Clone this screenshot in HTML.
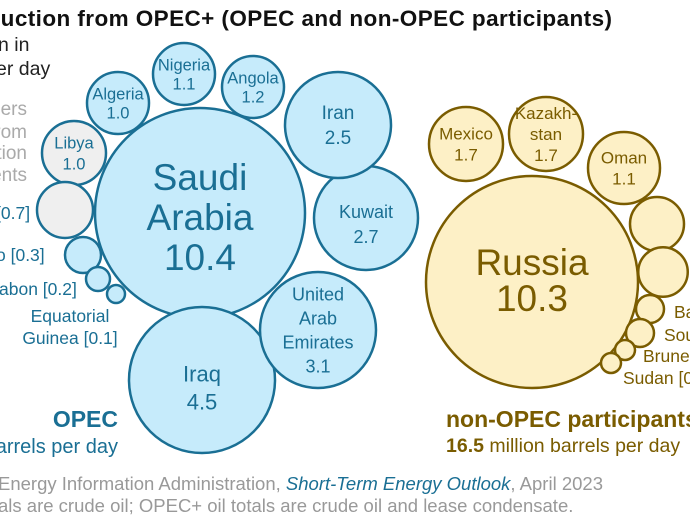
<!DOCTYPE html>
<html><head><meta charset="utf-8"><style>
body{margin:0;background:#fff;width:690px;height:518px;overflow:hidden}
svg{display:block;font-family:"Liberation Sans",Arial,sans-serif}
</style></head><body>
<svg id="c" width="690" height="518">
<text x="-6" y="26" font-size="22.5" font-weight="bold" fill="#111" textLength="618">luction from OPEC+ (OPEC and non-OPEC participants)</text>
<text x="-2" y="51" font-size="19.5" fill="#222">n in</text>
<text x="-4" y="75" font-size="19.5" fill="#222">er day</text>
<g fill="#aaa" font-size="19" text-anchor="end">
<text x="27" y="115">ers</text><text x="27" y="138">rom</text><text x="27" y="159">tion</text><text x="27" y="181">ents</text></g>
<g fill="#1a6f94" font-size="17.5">
<text x="-4" y="219">[0.7]</text><text x="-4" y="261">o [0.3]</text><text x="-1" y="295">abon [0.2]</text>
<text x="70" y="322" text-anchor="middle">Equatorial</text><text x="70" y="344" text-anchor="middle">Guinea [0.1]</text></g>
<g fill="#7a5c00" font-size="17.5">
<text x="674" y="318">Ba</text><text x="664" y="341">Sou</text><text x="643" y="362">Brune</text><text x="623" y="384">Sudan [0</text></g>
<text x="118" y="427" font-size="23" font-weight="bold" fill="#1a6f94" text-anchor="end">OPEC</text>
<text x="118" y="453" font-size="20" fill="#1a6f94" text-anchor="end">arrels per day</text>
<text x="446" y="427" font-size="23" font-weight="bold" fill="#7a5c00">non-OPEC participants</text>
<text x="446" y="452" font-size="19.5" fill="#7a5c00"><tspan font-weight="bold">16.5</tspan> million barrels per day</text>
<text x="-2" y="490" font-size="18.5" fill="#999">Energy Information Administration, <tspan fill="#1a6f94" font-style="italic">Short-Term Energy Outlook</tspan>, April 2023</text>
<text x="-2" y="512" font-size="18.5" fill="#999">als are crude oil; OPEC+ oil totals are crude oil and lease condensate.</text>
<g id="bubbles"></g>
</svg>
<script>
const opecNames=["Saudi Arabia","Iraq","United Arab Emirates","Kuwait","Iran","Angola","Nigeria","Algeria","Libya","Venezuela","Congo","Gabon","Equatorial Guinea"];
const opecValues=[10.4,4.5,3.1,2.7,2.5,1.2,1.1,1.0,1.0,0.7,0.3,0.2,0.1];
const opecExempt=[0,0,0,0,0,0,0,0,1,1,0,0,0];
const nonNames=["Russia","Mexico","Kazakhstan","Oman","Azerbaijan","Malaysia","Bahrain","South Sudan","Brunei","Sudan"];
const nonValues=[10.3,1.7,1.7,1.1,0.6,0.5,0.2,0.2,0.1,0.1];
// layout anchors (bubble centres, packed layout) and max-radius caps
const opecCx=[200,202,318,366,338,253,184,118,74,65,83,98,116];
const opecCy=[213,380,330,218,125,87,74,103,153,210,255,279,294];
const opecCap=[105,73,58,52,53,31,31,31,32,28,18,12,9];
const nonCx=[532,466,546,624,657,663,650,640,625,611];
const nonCy=[282,144,134,168,224,272,309,333,350,363];
const nonCap=[106,37,37,36,27,25,14,14,10,10];
const rOf=v=>35*Math.sqrt(v);
const NS="http://www.w3.org/2000/svg",g=document.getElementById("bubbles");
function lines(txt,x,y,fs,col,lh){const t=document.createElementNS(NS,"text");t.setAttribute("text-anchor","middle");t.setAttribute("font-size",fs);t.setAttribute("fill",col);
const n=txt.length;txt.forEach((s,i)=>{const sp=document.createElementNS(NS,"tspan");sp.setAttribute("x",x);sp.setAttribute("y",y+(i-(n-1)/2)*lh+fs*0.35);sp.textContent=s;t.appendChild(sp);});


g.appendChild(t);}
function bubble(x,y,r,fill,stroke,name){const c=document.createElementNS(NS,"circle");c.setAttribute("cx",x);c.setAttribute("cy",y);c.setAttribute("r",r);c.setAttribute("fill",fill);c.setAttribute("stroke",stroke);c.setAttribute("stroke-width",2.5);


g.appendChild(c);}
const opecLbl={"Saudi Arabia":[["Saudi","Arabia"],37,40,4],"Iraq":[["Iraq"],22,28,8],"United Arab Emirates":[["United","Arab","Emirates"],18,24,0],"Kuwait":[["Kuwait"],18,25,6],"Iran":[["Iran"],19,25,0],"Angola":[["Angola"],16.5,19,0],"Nigeria":[["Nigeria"],16.5,19,0],"Algeria":[["Algeria"],16.5,19,0],"Libya":[["Libya"],16.5,21,0]};
opecValues.forEach((v,i)=>{const r=Math.min(rOf(v),opecCap[i]);
bubble(opecCx[i],opecCy[i],r,opecExempt[i]?"#efefef":"#c6ebfb","#1a6f94",opecNames[i]);
const L=opecLbl[opecNames[i]];if(L){lines(L[0].concat([v.toFixed(1)]),opecCx[i],opecCy[i]+L[3],L[1],"#1a6f94",L[2]);}});
const nonLbl={"Russia":[["Russia"],37,36,-2],"Mexico":[["Mexico"],17,21,0],"Kazakhstan":[["Kazakh-","stan"],17,21,0],"Oman":[["Oman"],17,21,0]};
nonValues.forEach((v,i)=>{const r=Math.min(rOf(v),nonCap[i]);
bubble(nonCx[i],nonCy[i],r,"#fdf0c6","#7a5c00",nonNames[i]);
const L=nonLbl[nonNames[i]];if(L){lines(L[0].concat([v.toFixed(1)]),nonCx[i],nonCy[i]+L[3],L[1],"#7a5c00",L[2]);}});
</script>
</body></html>
